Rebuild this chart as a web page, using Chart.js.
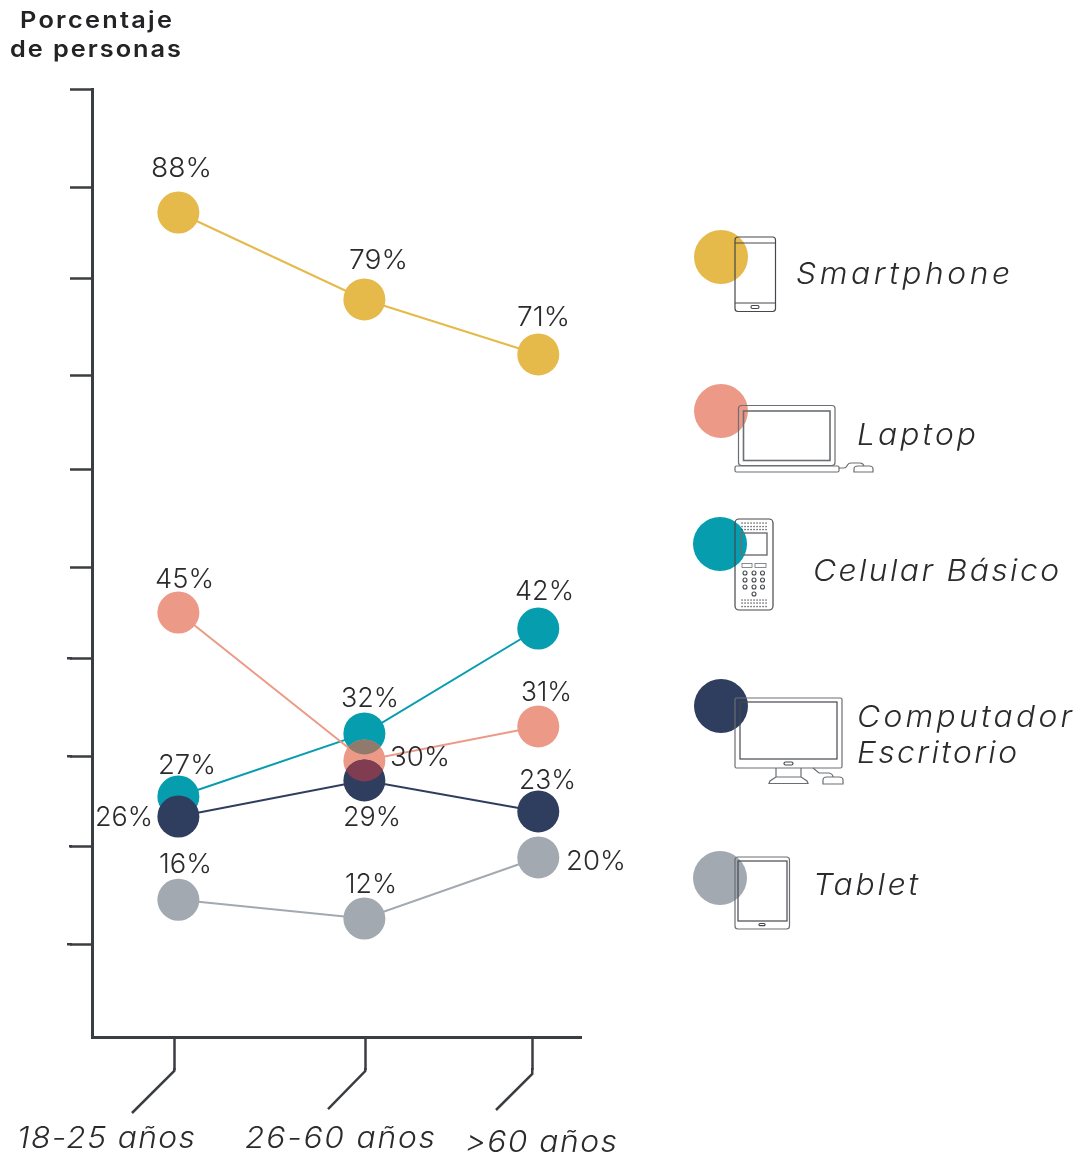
<!DOCTYPE html>
<html lang="es">
<head>
<meta charset="utf-8">
<style>html,body{margin:0;padding:0;background:#fff}canvas{display:block}</style>
<script src="https://cdn.jsdelivr.net/npm/chart.js@4/dist/chart.umd.js"></script>
</head>
<body>
<canvas id="c" width="1077" height="1155"></canvas>
<script>
// ---- data ----
const categories = ["18-25 años", "26-60 años", ">60 años"];
const seriesNames = ["Smartphone", "Laptop", "Celular Básico", "Computador Escritorio", "Tablet"];
// printed percentages
const smartphoneLabels = [88, 79, 71];
const laptopLabels = [45, 30, 31];
const celularLabels = [27, 32, 42];
const computadorLabels = [26, 29, 23];
const tabletLabels = [16, 12, 20];
// heights (the picture does not plot its labels exactly)
const smartphoneHeights = [86.97, 77.8, 72.0];
const laptopHeights = [44.78, 29.17, 32.76];
const celularHeights = [25.37, 32.02, 43.09];
const computadorHeights = [23.26, 27.06, 23.79];
const tabletHeights = [14.48, 12.5, 18.94];
// horizontal category positions
const pointX = [0.002, 1.002, 1.937];
const categoryTickX = [-0.019, 1.008, 1.906];
// axis tick values
const yTickValues = [100, 89.66, 80.06, 69.83, 59.9, 49.53, 39.93, 29.64, 20.1, 9.81];

// ---- style ----
const INK = "#3a3d42", TXT = "#2b2b2e";
const colors = ["#e5b94a", "#ec9a87", "#069daf", "#2f3e5f", "#a2a9b0"];
const SANS = "Inter, 'Open Sans', sans-serif";
const FONT_VAL = `300 27px ${SANS}`;
const FONT_ITA = `italic 300 30px ${SANS}`;

const mk = (i, ys, order) => ({
  label: seriesNames[i],
  data: ys.map((y, k) => ({ x: pointX[k], y })),
  borderColor: colors[i], backgroundColor: colors[i], pointBackgroundColor: colors[i],
  pointBorderWidth: 0, pointRadius: 21, pointHoverRadius: 21, borderWidth: 2, tension: 0, order
});

// fits a string between left and right: a horizontal widening of the glyphs, then letter spacing
function fit(ctx, str, left, right, base, font, color, widen) {
  ctx.save();
  ctx.font = font; ctx.fillStyle = color; ctx.textAlign = "left"; ctx.textBaseline = "alphabetic";
  ctx.letterSpacing = "0px";
  const w = ctx.measureText(str).width;
  let k = widen || 1, sp = 0;
  if (widen === 0) { k = (right - left) / w; }
  else { sp = ((right - left) / k - w) / Math.max(1, str.length - 1); }
  ctx.letterSpacing = sp.toFixed(3) + "px";
  ctx.translate(left, base); ctx.scale(k, 1);
  ctx.fillText(str, 0, 0);
  ctx.restore();
}

// value labels: [dataset, point, left, right, baseline]
const valueLabelBoxes = [
  [0,0,151,212,177],[0,1,349,408,269],[0,2,517,570,326],
  [1,0,155,214,588],[1,1,390,450,766],[1,2,521,572,701],
  [2,0,158,216,774],[2,1,341,399,707],[2,2,515,574,600],
  [3,0,95,153,826],[3,1,343,401,826],[3,2,519,576,789],
  [4,0,159,212,873],[4,1,345,397,893],[4,2,566,626,870]
];
const allLabels = [smartphoneLabels, laptopLabels, celularLabels, computadorLabels, tabletLabels];

function roundRect(c, x, y, w, h, r) { c.beginPath(); c.roundRect(x, y, w, h, r); c.stroke(); }
function dots(c, x0, x1, y, n) { const s = (x1 - x0) / (n - 1); for (let i = 0; i < n; i++) c.fillRect(x0 + i * s - .6, y - .6, 1.3, 1.3); }
const align = v => Math.round(v - 1.25) + 1.25;

function drawIcons(c) {
  c.save();
  c.strokeStyle = "#45484d"; c.fillStyle = "#45484d"; c.lineWidth = 1.2;
  // smartphone
  roundRect(c, 735, 237, 40.5, 74.5, 3);
  c.beginPath(); c.moveTo(735, 243); c.lineTo(775.5, 243); c.moveTo(735, 303); c.lineTo(775.5, 303); c.stroke();
  roundRect(c, 751, 305.5, 8, 3, 1.5);
  // laptop
  c.strokeStyle = "#6b6e72";
  roundRect(c, 738.5, 405.5, 96.5, 60, 3);
  c.lineWidth = 1.6; c.strokeRect(743.5, 411, 86.5, 49.5); c.lineWidth = 1.2;
  roundRect(c, 735, 466, 104, 6, 1.5);
  c.beginPath(); c.moveTo(839, 468); c.lineTo(844, 468); c.bezierCurveTo(848, 468, 846, 463, 851, 463); c.lineTo(860, 463); c.quadraticCurveTo(863, 463, 864, 466); c.stroke();
  c.beginPath(); c.moveTo(854, 472); c.lineTo(854, 469); c.quadraticCurveTo(854, 466, 858, 466); c.lineTo(869, 466); c.quadraticCurveTo(873, 466, 873, 469); c.lineTo(873, 472); c.closePath(); c.stroke();
  // basic phone
  c.strokeStyle = "#45484d";
  roundRect(c, 735, 519, 38, 91, 4);
  c.strokeStyle = "#6b6e72"; c.lineWidth = 1.4; c.strokeRect(741, 533, 26, 22);
  c.lineWidth = .8; c.strokeRect(742, 563.5, 10, 4); c.strokeRect(755, 563.5, 11, 4);
  c.strokeStyle = "#45484d"; c.lineWidth = 1.1;
  [[745,573],[754,573],[762.5,573],[745,580],[754,580],[762.5,580],[745,587],[754,587],[762.5,587],[754,594]].forEach(p => { c.beginPath(); c.arc(p[0], p[1], 2, 0, 7); c.stroke(); });
  [523,526.5,529.5,600,603,606.5].forEach(y => dots(c, 742, 766, y, 9));
  // monitor
  c.strokeStyle = "#6b6e72"; c.lineWidth = 1.2;
  roundRect(c, 735, 698, 107, 70, 1.5);
  c.strokeStyle = "#45484d"; c.strokeRect(740, 702, 97, 57);
  roundRect(c, 784, 762, 9, 3, 1.5);
  c.strokeStyle = "#6b6e72";
  c.beginPath(); c.moveTo(776, 768); c.lineTo(776, 777); c.lineTo(770, 781); c.lineTo(769, 783.5); c.lineTo(808, 783.5); c.lineTo(807, 781); c.lineTo(801, 777); c.lineTo(801, 768); c.moveTo(776, 777); c.lineTo(801, 777); c.stroke();
  c.beginPath(); c.moveTo(813, 768); c.lineTo(819, 773); c.lineTo(829, 773); c.quadraticCurveTo(833, 774, 833, 777); c.stroke();
  c.beginPath(); c.moveTo(823, 784); c.lineTo(823, 780); c.quadraticCurveTo(823, 777, 827, 777); c.lineTo(839, 777); c.quadraticCurveTo(843, 777, 843, 780); c.lineTo(843, 784); c.closePath(); c.stroke();
  // tablet
  c.strokeStyle = "#6b6e72";
  roundRect(c, 735, 857, 54.5, 72, 3);
  c.strokeStyle = "#45484d"; c.strokeRect(738, 861, 49, 60);
  roundRect(c, 759, 923.5, 6, 2.2, 1);
  c.restore();
}

const annotate = {
  id: "annotate",
  afterDatasetsDraw(chart) {
    const c = chart.ctx;
    const pt = (d, i) => chart.getDatasetMeta(d).data[i];
    // overlap lenses at the middle category
    const lens = (a, b, col) => {
      c.save();
      c.beginPath(); c.arc(a.x, a.y, 21, 0, 7); c.clip();
      c.beginPath(); c.arc(b.x, b.y, 21, 0, 7); c.fillStyle = col; c.fill();
      c.restore();
    };
    lens(pt(2, 1), pt(1, 1), "#8f7a6c");
    lens(pt(3, 1), pt(1, 1), "#803c50");

    // value labels
    valueLabelBoxes.forEach(([d, i, l, r, b]) => fit(c, allLabels[d][i] + "%", l, r, b, FONT_VAL, TXT, 0));

    // longer tick stubs on the value axis
    const ys = chart.scales.y;
    c.save(); c.strokeStyle = INK; c.lineWidth = 2.5;
    [[6, 67], [7, 67], [8, 69], [9, 67]].forEach(([t, x]) => {
      const y = align(ys.getPixelForValue(yTickValues[t]));
      c.beginPath(); c.moveTo(x, y); c.lineTo(72, y); c.stroke();
    });
    c.restore();

    // category leaders and labels
    const xs = chart.scales.x;
    const leaders = [[1071, 132, 1113], [1071, 328, 1109], [1074, 496, 1110]];
    c.save(); c.strokeStyle = INK; c.lineWidth = 2.5;
    categories.forEach((_, i) => {
      const px = align(xs.getPixelForValue(categoryTickX[i]));
      const [y0, x1, y1] = leaders[i];
      c.beginPath(); c.moveTo(px, 1068); c.lineTo(px, y0); c.lineTo(x1, y1); c.stroke();
    });
    c.restore();
    fit(c, categories[0], 17, 195, 1148, FONT_ITA, TXT, 1.06);
    fit(c, categories[1], 245, 435, 1148, FONT_ITA, TXT, 1.06);
    fit(c, categories[2], 465, 617, 1152, FONT_ITA, TXT, 1.06);

    // title
    fit(c, "Porcentaje", 20, 172, 28, `600 23px ${SANS}`, "#232326", 1.1);
    fit(c, "de personas", 10, 181, 57, `600 23px ${SANS}`, "#232326", 1.1);

    // legend
    [[721,257],[721,411],[720,544],[721,706],[720,878]].forEach((p, i) => {
      c.beginPath(); c.arc(p[0], p[1], 27, 0, 7); c.fillStyle = colors[i]; c.fill();
    });
    drawIcons(c);
    fit(c, seriesNames[0], 796, 1010, 284, FONT_ITA, TXT, 1.06);
    fit(c, seriesNames[1], 857, 976, 445, FONT_ITA, TXT, 1.06);
    fit(c, seriesNames[2], 813, 1059, 581, FONT_ITA, TXT, 1.06);
    fit(c, "Computador", 857, 1072, 727, FONT_ITA, TXT, 1.06);
    fit(c, "Escritorio", 857, 1017, 763, FONT_ITA, TXT, 1.06);
    fit(c, seriesNames[4], 813, 918, 895, FONT_ITA, TXT, 1.06);
  }
};

new Chart(document.getElementById("c"), {
  type: "line",
  data: {
    datasets: [
      mk(0, smartphoneHeights, 5),
      mk(1, laptopHeights, 2),
      mk(2, celularHeights, 3),
      mk(3, computadorHeights, 1),
      mk(4, tabletHeights, 4)
    ]
  },
  plugins: [annotate],
  options: {
    responsive: false, animation: false, events: [],
    layout: { padding: { left: 70, right: 496, top: 89, bottom: 85 } },
    plugins: { legend: { display: false }, tooltip: { enabled: false }, title: { display: false } },
    scales: {
      x: {
        type: "linear", min: -0.4624, max: 2.1667,
        afterBuildTicks(s) { s.ticks = categoryTickX.map(value => ({ value })); },
        afterFit(s) { s.height = 33; },
        ticks: { display: false, autoSkip: false },
        grid: { drawOnChartArea: false, drawTicks: true, tickLength: 33, tickWidth: 2.5, tickColor: INK },
        border: { color: INK, width: 3 }
      },
      y: {
        min: 0, max: 100,
        afterBuildTicks(s) { s.ticks = yTickValues.map(value => ({ value })); },
        afterFit(s) { s.width = 22; },
        ticks: { display: false, autoSkip: false },
        grid: { drawOnChartArea: false, drawTicks: true, tickLength: 22, tickWidth: 2.5, tickColor: INK },
        border: { color: INK, width: 3 }
      }
    }
  }
});
</script>
</body>
</html>
